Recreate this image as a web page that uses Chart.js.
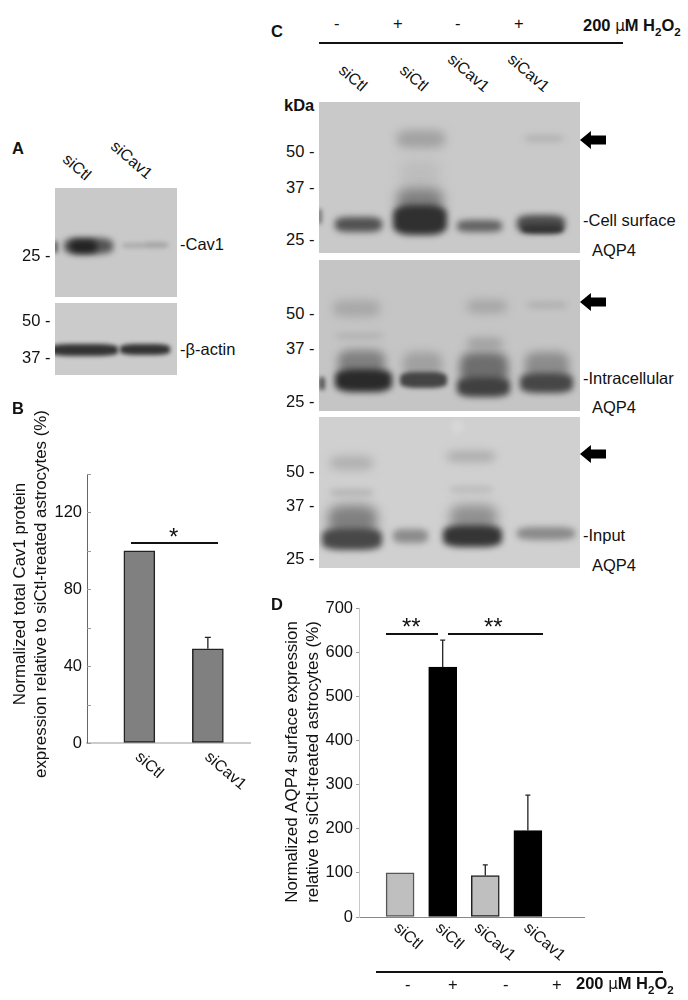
<!DOCTYPE html>
<html>
<head>
<meta charset="utf-8">
<title>AQP4 surface expression</title>
<script src="https://cdn.jsdelivr.net/npm/chart.js@4"></script>
<style>
  html, body { margin: 0; background: #fff; }
  body { position: relative; width: 688px; height: 1000px; overflow: hidden; font-family: 'Liberation Sans', Arial, sans-serif; color: #111; }
  canvas { position: absolute; }
  .t { position: absolute; white-space: nowrap; font-size: 16.5px; line-height: 1; transform: translateY(-50%); }
  .b { font-weight: bold; }
  .rot { position: absolute; white-space: nowrap; font-size: 16px; line-height: 1; transform-origin: 0 50%; transform: translateY(-50%) rotate(41deg); }
  .rule { position: absolute; background: #111; }
  .panel { position: absolute; overflow: hidden; }
  .band { position: absolute; border-radius: 30%; }
  .arrow { position: absolute; width: 26px; height: 18px; background: #000; clip-path: polygon(0 50%, 42% 0, 42% 25%, 100% 25%, 100% 75%, 42% 75%, 42% 100%); }
  .mu { font-family: 'DejaVu Sans', sans-serif; font-weight: normal; font-size: 0.92em; }
  sub { font-size: 0.7em; line-height: 0; }
</style>
</head>
<body>
<div id="blots"></div>
<canvas id="cav1Chart"></canvas>
<canvas id="aqp4Chart"></canvas>
<div id="notes"></div>
<script>
var FONT = "'Liberation Sans', Arial, sans-serif";
var INK = '#222222';

// panel B
var cav1Labels = ['siCtl', 'siCav1'];
var cav1Values = [100, 49];
var cav1Errors = [0, 6];
var cav1Ticks = [0, 40, 80, 120];
var cav1Title = ['Normalized total Cav1 protein', 'expression relative to siCtl-treated astrocytes (%)'];

// panel D
var aqp4Labels = ['siCtl', 'siCtl', 'siCav1', 'siCav1'];
var aqp4Values = [100, 566, 94, 196];
var aqp4Errors = [0, 61, 24, 80];
var aqp4Title = ['Normalized AQP4 surface expression', 'relative to siCtl-treated astrocytes (%)'];

// blot panels: x, y, w, h, background, then bands [x0, x1, y0, y1, shade, blur]
var blotPanels = [
  [55, 188, 122, 109, '#c9c9c9', [
    [52, 58, 241, 253, '#666', 2], [64, 113, 238, 254, '#555', 3], [70, 97, 240, 253, '#222', 3],
    [122, 146, 243, 248, '#aaa', 2], [144, 168, 242, 248, '#a5a5a5', 2]]],
  [55, 303, 122, 72, '#cbcbcb', [
    [50, 118, 344, 356, '#333', 2], [120, 170, 344, 355, '#333', 2]]],
  [319, 102, 261, 151, '#c9c9c9', [
    [397, 445, 130, 148, '#a2a2a2', 5], [400, 440, 160, 185, '#bdbdbd', 6], [397, 443, 188, 215, '#808080', 6],
    [393, 447, 205, 235, '#303030', 3], [335, 382, 217, 232, '#525252', 3], [457, 502, 220, 232, '#626262', 3],
    [517, 565, 215, 233, '#4a4a4a', 3], [522, 563, 225, 233, '#333', 2], [525, 563, 135, 142, '#b2b2b2', 3],
    [317, 322, 209, 224, '#777', 2]]],
  [319, 260, 261, 151, '#c5c5c5', [
    [333, 380, 300, 317, '#a8a8a8', 5], [467, 507, 300, 313, '#a5a5a5', 5], [527, 567, 302, 308, '#adadad', 3],
    [336, 383, 333, 339, '#b0b0b0', 3], [467, 503, 338, 348, '#9e9e9e', 4],
    [338, 385, 350, 375, '#808080', 5], [403, 442, 352, 378, '#a0a0a0', 5], [460, 508, 352, 385, '#6e6e6e', 5], [525, 569, 352, 380, '#8c8c8c', 5],
    [335, 392, 369, 392, '#2a2a2a', 3], [400, 447, 372, 388, '#444', 2], [457, 510, 377, 397, '#404040', 3], [520, 573, 373, 393, '#464646', 3],
    [319, 325, 377, 390, '#555', 2]]],
  [319, 417, 261, 151, '#d0d0d0', [
    [330, 373, 456, 470, '#b0b0b0', 5], [447, 495, 451, 462, '#adadad', 4], [330, 373, 489, 496, '#b4b4b4', 3], [450, 493, 486, 493, '#bbb', 3],
    [328, 377, 505, 535, '#808080', 6], [450, 497, 505, 530, '#909090', 6],
    [322, 382, 528, 550, '#484848', 3], [393, 428, 529, 543, '#8c8c8c', 3], [443, 502, 525, 547, '#353535', 3], [517, 575, 527, 540, '#8a8a8a', 3],
    [452, 463, 421, 433, '#d8d8d8', 3]]]
];

// plain text: text, x, y (middle), bold
var plainNotes = [
  ['A', 12, 148, 1], ['B', 12, 408, 1], ['C', 271, 31, 1], ['D', 271, 604, 1],
  ['25 -', 22, 255], ['50 -', 22, 320], ['37 -', 22, 357], ['-Cav1', 180, 244], ['-β-actin', 180, 349],
  ['kDa', 284, 105, 1],
  ['50 -', 286, 151], ['37 -', 286, 187], ['25 -', 286, 239],
  ['50 -', 286, 313], ['37 -', 286, 348], ['25 -', 286, 401],
  ['50 -', 286, 471], ['37 -', 286, 505], ['25 -', 286, 558],
  ['-Cell surface', 583, 220], ['AQP4', 592, 250],
  ['-Intracellular', 583, 378], ['AQP4', 592, 407],
  ['-Input', 583, 535], ['AQP4', 592, 565],
  ['-', 334, 23], ['+', 393, 23], ['-', 455, 23], ['+', 514, 23],
  ['-', 405, 984], ['+', 448, 984], ['-', 503, 984], ['+', 552, 984],
  ['*', 169, 537, 0, 24], ['**', 402, 627, 0, 24], ['**', 484, 627, 0, 24]
];
var rotatedNotes = [
  ['siCtl', 65, 157], ['siCav1', 113, 144],
  ['siCtl', 341, 68], ['siCtl', 402, 68], ['siCav1', 450, 57], ['siCav1', 510, 57]
];
var rules = [
  [319, 42, 304, 2], [376, 971, 287, 2],
  [131, 542, 87, 2], [386, 633, 52, 1.5], [448, 633, 95, 1.5]
];
var arrowRows = [131, 293, 445];

var blots = document.getElementById('blots');
blotPanels.forEach(function (p) {
  var panel = document.createElement('div');
  panel.className = 'panel';
  panel.style.cssText = 'left:' + p[0] + 'px;top:' + p[1] + 'px;width:' + p[2] + 'px;height:' + p[3] + 'px;background:' + p[4];
  p[5].forEach(function (b) {
    var band = document.createElement('div');
    band.className = 'band';
    band.style.cssText = 'left:' + (b[0] - p[0]) + 'px;top:' + (b[2] - p[1]) + 'px;width:' + (b[1] - b[0]) + 'px;height:' + (b[3] - b[2]) +
      'px;background:' + b[4] + ';filter:blur(' + b[5] + 'px)';
    panel.appendChild(band);
  });
  blots.appendChild(panel);
});

var notes = document.getElementById('notes');
function addNote(cls, html, x, y, size) {
  var el = document.createElement('div');
  el.className = cls;
  el.innerHTML = html;
  el.style.left = x + 'px';
  el.style.top = y + 'px';
  if (size) el.style.fontSize = size + 'px';
  notes.appendChild(el);
}
plainNotes.forEach(function (n) {
  addNote(n[3] ? 't b' : 't', n[0], n[1], n[2], n[4]);
});
rotatedNotes.forEach(function (n) {
  addNote('rot', n[0], n[1], n[2]);
});
var h2o2 = '200 <span class="mu">μ</span>M H<sub>2</sub>O<sub>2</sub>';
addNote('t b', h2o2, 583, 26);
addNote('t b', h2o2, 576, 984);
rules.forEach(function (r) {
  var el = document.createElement('div');
  el.className = 'rule';
  el.style.cssText = 'left:' + r[0] + 'px;top:' + r[1] + 'px;width:' + r[2] + 'px;height:' + r[3] + 'px';
  notes.appendChild(el);
});
arrowRows.forEach(function (y) {
  var el = document.createElement('div');
  el.className = 'arrow';
  el.style.left = '580px';
  el.style.top = y + 'px';
  notes.appendChild(el);
});

// error bars (upward only), slanted category labels, axis title
var barExtras = {
  id: 'barExtras',
  afterDatasetsDraw: function (chart, args, opts) {
    var ctx = chart.ctx;
    var xs = chart.scales.x;
    var ys = chart.scales.y;
    ctx.save();
    opts.values.forEach(function (v, i) {
      var x = xs.getPixelForValue(i + 1);
      if (opts.errors[i]) {
        var top = ys.getPixelForValue(v + opts.errors[i]);
        ctx.strokeStyle = INK;
        ctx.lineWidth = 1.3;
        ctx.beginPath();
        ctx.moveTo(x, ys.getPixelForValue(v));
        ctx.lineTo(x, top);
        ctx.moveTo(x - opts.cap, top);
        ctx.lineTo(x + opts.cap, top);
        ctx.stroke();
      }
      ctx.save();
      ctx.translate(x + opts.labelDx[i], opts.labelY);
      ctx.rotate(41 * Math.PI / 180);
      ctx.font = '16px ' + FONT;
      ctx.fillStyle = '#111';
      ctx.textBaseline = 'middle';
      ctx.textAlign = 'left';
      ctx.fillText(opts.labels[i], 0, 0);
      ctx.restore();
    });
    opts.title.forEach(function (line, i) {
      ctx.save();
      ctx.translate(opts.titleX[i], opts.titleY);
      ctx.rotate(-Math.PI / 2);
      ctx.font = opts.titleSize + 'px ' + FONT;
      ctx.fillStyle = '#111';
      ctx.textBaseline = 'middle';
      ctx.textAlign = 'center';
      ctx.fillText(line, 0, 0);
      ctx.restore();
    });
    if (opts.innerTicks) {
      ctx.strokeStyle = '#999';
      ctx.lineWidth = 1;
      ys.ticks.forEach(function (t) {
        var y = Math.round(ys.getPixelForValue(t.value)) + 0.5;
        ctx.beginPath();
        ctx.moveTo(xs.left, y);
        ctx.lineTo(xs.left + 4, y);
        ctx.stroke();
      });
    }
    ctx.restore();
  },
};

function makeChart(id, box, cfg) {
  var canvas = document.getElementById(id);
  canvas.style.left = box.left + 'px';
  canvas.style.top = box.top + 'px';
  canvas.width = box.width;
  canvas.height = box.height;
  return new Chart(canvas, {
    type: 'bar',
    data: {
      datasets: [{
        data: cfg.values.map(function (v, i) { return { x: i + 1, y: v }; }),
        backgroundColor: cfg.fills,
        borderColor: cfg.edges,
        borderWidth: 1.5,
        borderSkipped: false,
        barThickness: cfg.barWidth,
      }],
    },
    plugins: [barExtras],
    options: {
      responsive: false,
      animation: false,
      layout: { padding: cfg.padding },
      plugins: {
        legend: { display: false },
        tooltip: { enabled: false },
        barExtras: {
          values: cfg.values, errors: cfg.errors, labels: cfg.labels, cap: cfg.cap,
          labelDx: cfg.labelDx, labelY: cfg.labelY, innerTicks: cfg.innerTicks,
          title: cfg.title, titleX: cfg.titleX, titleY: cfg.titleY, titleSize: cfg.titleSize,
        },
      },
      scales: {
        x: {
          type: 'linear',
          offset: false,
          min: cfg.xMin,
          max: cfg.xMax,
          grid: { display: false },
          ticks: { display: false },
          border: { color: cfg.xLine, width: cfg.xLineWidth },
        },
        y: {
          min: 0,
          max: cfg.yMax,
          afterFit: function (scale) { scale.width = cfg.axisWidth; },
          grid: { drawOnChartArea: false, drawTicks: cfg.outerTicks, tickLength: 3, color: '#999' },
          border: { color: cfg.yLine, width: 1 },
          ticks: {
            stepSize: cfg.yStep,
            color: '#111',
            padding: cfg.tickPad,
            font: { family: FONT, size: 16.5 },
            callback: cfg.tickText,
          },
        },
      },
    },
  });
}

makeChart('cav1Chart', { left: 0, top: 400, width: 270, height: 400 }, {
  values: cav1Values, errors: cav1Errors, labels: cav1Labels, title: cav1Title,
  fills: ['#808080', '#808080'], edges: [INK, INK], barWidth: 31, cap: 3,
  padding: { top: 74, bottom: 49, right: 20, left: 0 },
  xMin: 0.236, xMax: 2.615, xLine: '#cccccc', xLineWidth: 2, yLine: '#666666',
  yMax: 140, yStep: 20, axisWidth: 87, tickPad: 5,
  titleX: [20, 41], titleY: 194, titleSize: 16.9,
  outerTicks: false, innerTicks: true,
  tickText: function (v) { return cav1Ticks.indexOf(v) >= 0 ? String(v) : ''; },
  labelDx: [-2, -1], labelY: 355,
});

makeChart('aqp4Chart', { left: 270, top: 590, width: 418, height: 410 }, {
  values: aqp4Values, errors: aqp4Errors, labels: aqp4Labels, title: aqp4Title,
  fills: ['#bfbfbf', '#000000', '#bfbfbf', '#000000'], edges: ['#555555', '#000000', '#222222', '#000000'], barWidth: 28, cap: 2.5,
  padding: { top: 18, bottom: 75, right: 104, left: 0 },
  xMin: 0.035, xMax: 5.318, xLine: '#888888', xLineWidth: 1, yLine: '#c8c8c8',
  yMax: 700, yStep: 100, axisWidth: 89, tickPad: 3,
  titleX: [22, 43], titleY: 172, titleSize: 16.9,
  outerTicks: true, innerTicks: false,
  labelDx: [-4, -5, -9, -2], labelY: 336,
});
</script>
</body>
</html>
